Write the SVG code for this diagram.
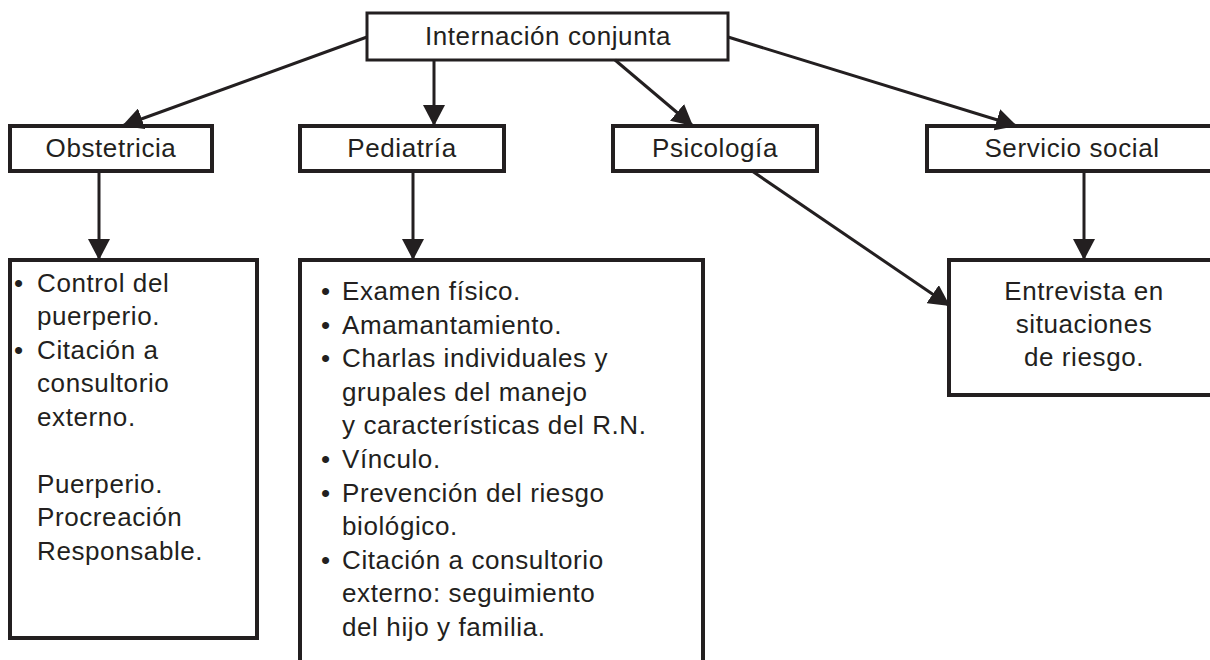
<svg xmlns="http://www.w3.org/2000/svg" width="1210" height="660" viewBox="0 0 1210 660">
<style>
.box{fill:#ffffff;stroke:#231f20;stroke-width:4}
.top{fill:#ffffff;stroke:#231f20;stroke-width:3}
.t{font-family:"Liberation Sans",Arial,sans-serif;font-size:26px;fill:#231f20;letter-spacing:0.6px}
.c{text-anchor:middle}
.conn line{stroke:#231f20;stroke-width:3;fill:none;marker-end:url(#ah)}
</style>
<defs>
<marker id="ah" markerUnits="userSpaceOnUse" viewBox="0 0 21 22" markerWidth="21" markerHeight="22" refX="21" refY="11" orient="auto">
<path d="M0,0 L21,11 L0,22 z" fill="#231f20"/>
</marker>
</defs>
<rect width="1210" height="660" fill="#ffffff"/>
<g id="n-internacion">
<rect class="top" x="367" y="13" width="361" height="47"/>
<text class="t c" x="548" y="45">Internación conjunta</text>
</g>
<g id="n-obstetricia">
<rect class="box" x="10" y="126" width="202" height="45"/>
<text class="t c" x="111" y="157">Obstetricia</text>
</g>
<g id="n-pediatria">
<rect class="box" x="300" y="126" width="204" height="45"/>
<text class="t c" x="402" y="157">Pediatría</text>
</g>
<g id="n-psicologia">
<rect class="box" x="613" y="126" width="204" height="45"/>
<text class="t c" x="715" y="157">Psicología</text>
</g>
<g id="n-servicio">
<rect class="box" x="927" y="126" width="291" height="45"/>
<text class="t c" x="1072" y="157">Servicio social</text>
</g>
<g id="n-obst-detalle">
<rect class="box" x="10" y="260" width="247" height="378"/>
<text class="t" x="14" y="292">•</text><text class="t" x="37" y="292">Control del</text>
<text class="t" x="37" y="325">puerperio.</text>
<text class="t" x="14" y="359">•</text><text class="t" x="37" y="359">Citación a</text>
<text class="t" x="37" y="392">consultorio</text>
<text class="t" x="37" y="426">externo.</text>
<text class="t" x="37" y="493">Puerperio.</text>
<text class="t" x="37" y="526">Procreación</text>
<text class="t" x="37" y="560">Responsable.</text>
</g>
<g id="n-ped-detalle">
<rect class="box" x="300" y="260" width="403" height="440"/>
<text class="t" x="321" y="300">•</text><text class="t" x="342" y="300">Examen físico.</text>
<text class="t" x="321" y="334">•</text><text class="t" x="342" y="334">Amamantamiento.</text>
<text class="t" x="321" y="367">•</text><text class="t" x="342" y="367">Charlas individuales y</text>
<text class="t" x="342" y="401">grupales del manejo</text>
<text class="t" x="342" y="434">y características del R.N.</text>
<text class="t" x="321" y="468">•</text><text class="t" x="342" y="468">Vínculo.</text>
<text class="t" x="321" y="502">•</text><text class="t" x="342" y="502">Prevención del riesgo</text>
<text class="t" x="342" y="535">biológico.</text>
<text class="t" x="321" y="569">•</text><text class="t" x="342" y="569">Citación a consultorio</text>
<text class="t" x="342" y="602">externo: seguimiento</text>
<text class="t" x="342" y="636">del hijo y familia.</text>
</g>
<g id="n-entrevista">
<rect class="box" x="949" y="260" width="269" height="135"/>
<text class="t c" x="1084" y="300">Entrevista en</text>
<text class="t c" x="1084" y="333">situaciones</text>
<text class="t c" x="1084" y="366">de riesgo.</text>
</g>
<g id="connectors" class="conn">
<line x1="367" y1="37" x2="122" y2="126"/>
<line x1="434" y1="60" x2="434" y2="126"/>
<line x1="615" y1="60" x2="693" y2="126"/>
<line x1="728" y1="37" x2="1017" y2="126"/>
<line x1="99" y1="171" x2="99" y2="260"/>
<line x1="413" y1="171" x2="413" y2="260"/>
<line x1="752" y1="171" x2="950" y2="306"/>
<line x1="1084" y1="171" x2="1084" y2="260"/>
</g>
</svg>
